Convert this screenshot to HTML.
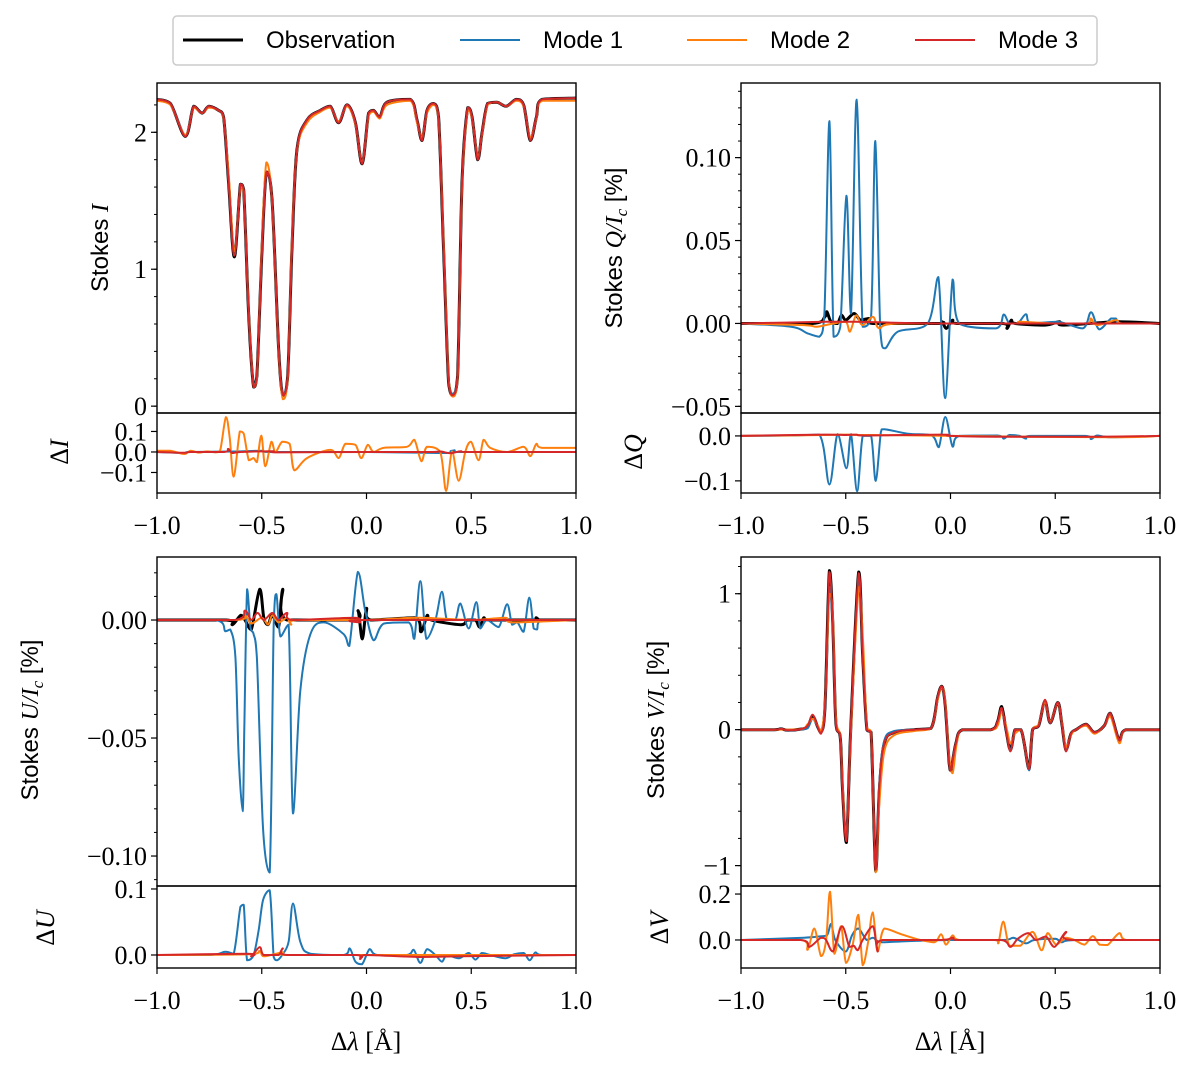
<!DOCTYPE html>
<html><head><meta charset="utf-8"><style>
body{margin:0;background:#fff;}
svg{display:block;}
text{font-family:"Liberation Serif",serif;fill:#000;}
.lg{font-family:"Liberation Sans",sans-serif;font-size:24px;}
</style></head><body>
<svg id="fig" width="1200" height="1075" viewBox="0 0 1200 1075" xmlns="http://www.w3.org/2000/svg">
<g>
<rect x="173" y="16" width="924" height="49" rx="4" fill="#fff" stroke="#ccc" stroke-width="1.5"/>
<line x1="183" y1="40" x2="243" y2="40" stroke="#000" stroke-width="3"/>
<text class="lg" x="266" y="48">Observation</text>
<line x1="460" y1="40" x2="520" y2="40" stroke="#1f77b4" stroke-width="2"/>
<text class="lg" x="543" y="48">Mode 1</text>
<line x1="687" y1="40" x2="747" y2="40" stroke="#ff7f0e" stroke-width="2"/>
<text class="lg" x="770" y="48">Mode 2</text>
<line x1="915" y1="40" x2="975" y2="40" stroke="#d62728" stroke-width="2"/>
<text class="lg" x="998" y="48">Mode 3</text>
</g>
</svg>
<script>
// ---- Stokes I ----
const iWl = [-1,-0.936,-0.865,-0.825,-0.785,-0.753,-0.706,-0.682,-0.658,-0.631,-0.602,-0.586,-0.562,-0.539,-0.523,-0.499,-0.478,-0.451,-0.419,-0.399,-0.376,-0.356,-0.332,-0.284,-0.22,-0.173,-0.133,-0.093,-0.053,-0.021,0.01,0.034,0.063,0.098,0.209,0.241,0.265,0.289,0.321,0.344,0.368,0.392,0.413,0.435,0.456,0.483,0.504,0.531,0.551,0.578,0.623,0.667,0.715,0.75,0.782,0.811,0.838,1];
const iObs = [2.24,2.21,1.97,2.19,2.14,2.19,2.16,2.11,1.63,1.09,1.62,1.58,0.65,0.14,0.22,1.14,1.71,1.51,0.41,0.08,0.22,1.14,1.87,2.09,2.16,2.19,2.07,2.2,2.07,1.77,2.14,2.16,2.11,2.22,2.24,2.09,1.94,2.16,2.21,2.11,1.14,0.17,0.08,0.22,1.63,2.18,2.11,1.8,1.99,2.21,2.22,2.19,2.24,2.2,1.94,2.11,2.24,2.25];
const iMode1 = [2.24,2.21,1.98,2.19,2.14,2.19,2.16,2.11,1.63,1.1,1.62,1.58,0.65,0.15,0.22,1.14,1.7,1.51,0.41,0.09,0.22,1.14,1.87,2.09,2.16,2.19,2.08,2.2,2.07,1.78,2.14,2.16,2.11,2.22,2.24,2.09,1.95,2.16,2.21,2.11,1.14,0.17,0.09,0.22,1.63,2.18,2.11,1.81,1.99,2.21,2.22,2.19,2.24,2.2,1.95,2.11,2.24,2.25];
const iMode2 = [2.23,2.2,1.98,2.18,2.14,2.18,2.16,2.1,1.7,1.13,1.6,1.57,0.68,0.14,0.2,1.2,1.78,1.5,0.4,0.05,0.2,1.2,1.86,2.07,2.15,2.18,2.08,2.19,2.06,1.78,2.12,2.15,2.1,2.2,2.23,2.07,1.96,2.14,2.2,2.1,1.2,0.2,0.07,0.2,1.6,2.16,2.1,1.82,1.98,2.2,2.22,2.19,2.23,2.19,1.96,2.1,2.23,2.23];
const iMode3 = [2.24,2.21,1.97,2.19,2.14,2.19,2.16,2.11,1.64,1.1,1.62,1.58,0.66,0.14,0.22,1.15,1.71,1.51,0.41,0.08,0.22,1.15,1.87,2.09,2.16,2.19,2.07,2.2,2.07,1.77,2.14,2.16,2.11,2.22,2.24,2.09,1.94,2.16,2.21,2.11,1.15,0.17,0.08,0.22,1.63,2.18,2.11,1.8,1.99,2.21,2.22,2.19,2.24,2.2,1.94,2.11,2.24,2.25];
const dIMode1 = [[-1,0],[-0.87,-0.005],[-0.84,0],[-0.6,0.003],[-0.5,0.006],[-0.45,0],[0,0],[0.38,-0.005],[0.42,0.008],[0.45,0],[1,0]];
const dIMode2 = [[-1,0.006],[-0.936,0.006],[-0.87,-0.01],[-0.84,0.006],[-0.8,-0.003],[-0.76,0.003],[-0.72,-0.002],[-0.698,0.01],[-0.671,0.17],[-0.653,0.07],[-0.634,-0.12],[-0.605,0.1],[-0.586,0.09],[-0.562,-0.04],[-0.539,-0.03],[-0.523,-0.05],[-0.502,0.08],[-0.483,-0.07],[-0.454,0.05],[-0.435,0],[-0.403,0.05],[-0.367,0.04],[-0.344,-0.09],[-0.284,-0.03],[-0.173,0.01],[-0.133,-0.03],[-0.101,0.04],[-0.053,0.035],[-0.025,-0.03],[0.006,0.035],[0.034,0],[0.082,0.02],[0.193,0.025],[0.228,0.06],[0.262,-0.045],[0.289,0.025],[0.352,0],[0.38,-0.19],[0.408,0.003],[0.44,-0.14],[0.472,0.003],[0.499,0.05],[0.535,-0.04],[0.559,0.06],[0.591,0.02],[0.671,0],[0.75,0.025],[0.782,-0.02],[0.811,0.04],[0.838,0.02],[1,0.02]];
const dIMode3 = [[-1,0],[-0.87,-0.004],[-0.84,0],[-0.68,0],[-0.66,0.015],[-0.64,-0.005],[-0.6,0],[-0.45,0.004],[-0.42,-0.002],[0,0],[0.3,0],[0.35,0.003],[0.4,-0.006],[0.45,0.004],[0.5,0],[1,0]];
// ---- Stokes Q ----
const qObs = [[-1,0],[-0.66,0],[-0.6,0.004],[-0.59,0.007],[-0.57,0.001],[-0.54,0],[-0.52,0.005],[-0.5,0.002],[-0.46,0.006],[-0.43,0.002],[-0.39,0.003],[-0.37,0],[-0.06,0],[-0.04,0.001],[-0.02,-0.003],[0.01,0.002],[0.03,0],[0.25,0],[0.27,-0.003],[0.29,0.002],[0.31,0],[0.45,-0.001],[0.52,0.001],[0.54,-0.001],[0.8,0.001],[1,0]];
const qMode1 = [[-1,0],[-0.761,-0.002],[-0.682,-0.006],[-0.626,-0.008],[-0.602,0.006],[-0.578,0.122],[-0.558,-0.008],[-0.526,-0.002],[-0.497,0.077],[-0.475,0.006],[-0.448,0.135],[-0.419,-0.002],[-0.379,0.004],[-0.359,0.11],[-0.335,-0.004],[-0.313,-0.015],[-0.252,-0.005],[-0.109,0],[-0.058,0.028],[-0.026,-0.045],[0.01,0.0265],[0.042,0],[0.217,-0.003],[0.254,0.0054],[0.281,0],[0.321,0],[0.36,0.0056],[0.384,0],[0.511,0.001],[0.631,-0.003],[0.671,0.0068],[0.71,-0.0036],[0.766,0.003],[0.79,0.003],[0.814,0],[1,0]];
const qMode2 = [[-1,0],[-0.7,-0.001],[-0.64,-0.002],[-0.56,0],[-0.5,0.001],[-0.48,-0.005],[-0.45,0.005],[-0.42,-0.001],[-0.37,0.004],[-0.34,-0.003],[-0.25,0],[0.3,0],[0.33,0.001],[0.5,0],[0.65,0],[0.67,0.003],[0.7,-0.001],[0.79,0.002],[0.82,0],[1,0]];
const qMode3 = [[-1,0],[-0.6,0.001],[-0.45,0.001],[0,0],[1,0]];
const dQMode1 = [[-1,0],[-0.761,0.001],[-0.626,0.003],[-0.578,-0.108],[-0.539,0.004],[-0.497,-0.072],[-0.475,0.004],[-0.446,-0.123],[-0.419,0],[-0.379,0],[-0.357,-0.1],[-0.332,0.009],[-0.316,0.015],[-0.204,0.005],[-0.09,0.001],[-0.056,-0.025],[-0.025,0.042],[0.01,-0.024],[0.042,0],[0.225,0.001],[0.254,-0.006],[0.281,0.002],[0.33,0],[0.36,-0.006],[0.384,0],[0.64,0],[0.671,-0.007],[0.7,0.001],[0.77,-0.003],[1,0]];
const dQMode2 = [[-1,0],[-0.6,0.002],[-0.5,0.003],[-0.45,0.002],[-0.37,0.002],[0,0],[0.78,-0.003],[1,0]];
const dQMode3 = [[-1,0],[-0.6,0.003],[-0.5,0.002],[-0.45,0.003],[-0.4,0.001],[-0.04,0.003],[0,0],[0.25,-0.002],[0.67,-0.002],[1,0]];
// ---- Stokes U ----
const uObs = [[-1,0],[-0.67,0],[-0.64,-0.002],[-0.6,0.002],[-0.58,0],[-0.55,-0.004],[-0.51,0.013],[-0.49,0.001],[-0.47,-0.002],[-0.45,0.002],[-0.42,-0.003],[-0.4,0.013],[-0.38,0],[-0.06,0],[-0.04,0.004],[-0.02,-0.008],[0,0.005],[0.02,0],[0.23,0.001],[0.26,-0.005],[0.29,0.002],[0.31,0],[0.45,-0.002],[0.48,0],[0.52,0],[0.54,-0.003],[0.56,0.001],[0.59,0],[0.8,0],[0.81,0.001],[0.83,0],[1,0]];
const uMode1 = [[-1,0],[-0.72,0],[-0.674,-0.0048],[-0.65,-0.004],[-0.626,-0.0157],[-0.61,-0.058],[-0.591,-0.081],[-0.583,-0.044],[-0.57,0.013],[-0.554,-0.003],[-0.539,-0.006],[-0.523,-0.016],[-0.494,-0.088],[-0.462,-0.107],[-0.443,-0.002],[-0.43,0.011],[-0.411,-0.007],[-0.372,-0.002],[-0.351,-0.082],[-0.316,-0.03],[-0.268,-0.006],[-0.204,-0.001],[-0.109,-0.006],[-0.082,-0.011],[-0.041,0.0204],[-0.006,0.004],[0.034,-0.0086],[0.082,-0.0015],[0.201,-0.001],[0.228,-0.008],[0.257,0.0165],[0.286,-0.008],[0.329,0],[0.36,0.012],[0.384,0],[0.424,0],[0.448,0.007],[0.488,-0.0036],[0.524,0.0076],[0.543,-0.0036],[0.575,0],[0.631,-0.003],[0.671,0.0067],[0.695,-0.002],[0.72,-0.001],[0.75,-0.005],[0.777,0.0095],[0.798,-0.0036],[0.814,-0.004],[0.838,0],[1,0]];
const uMode2 = [[-1,0],[-0.62,0],[-0.58,0.002],[-0.55,-0.0015],[-0.5,0.001],[-0.47,-0.002],[-0.45,0.002],[-0.42,-0.001],[-0.38,0.001],[-0.36,-0.002],[-0.33,0],[0,0],[0.25,0.001],[0.5,0],[0.66,0.001],[0.7,-0.001],[1,0]];
const uMode3 = [[-1,0],[-0.63,0],[-0.58,0.004],[-0.55,0],[-0.52,0.003],[-0.49,0],[-0.45,0.003],[-0.42,0],[-0.38,0.003],[-0.35,0],[-0.06,0.001],[-0.03,-0.001],[0,0],[1,0]];
const dUMode1 = [[-1,0],[-0.745,0],[-0.674,0.005],[-0.634,0.002],[-0.602,0.073],[-0.586,0.076],[-0.57,-0.008],[-0.539,0],[-0.515,0.037],[-0.494,0.083],[-0.462,0.098],[-0.443,-0.003],[-0.427,-0.008],[-0.403,0],[-0.372,0.02],[-0.351,0.078],[-0.316,0.02],[-0.268,0.002],[-0.109,0],[-0.08,0.01],[-0.053,-0.01],[-0.021,-0.014],[0.015,0.009],[0.05,0],[0.193,0],[0.225,0.008],[0.257,-0.012],[0.289,0.009],[0.329,0],[0.36,-0.01],[0.384,0],[0.44,-0.005],[0.488,0.003],[0.52,-0.007],[0.551,0.003],[0.591,0],[0.663,-0.005],[0.703,0.001],[0.75,0.003],[0.779,-0.008],[0.806,0.004],[0.838,0],[1,0]];
const dUMode2 = [[-1,0],[-0.57,0.001],[-0.51,0.006],[-0.49,-0.002],[-0.4,0.004],[-0.38,0],[0,0],[1,0]];
const dUMode3 = [[-1,0],[-0.57,0.002],[-0.55,-0.002],[-0.51,0.012],[-0.49,0],[-0.42,0],[-0.4,0.01],[-0.38,0],[-0.05,0],[-0.03,-0.006],[0,0],[0.26,-0.003],[0.45,-0.002],[1,0]];
// ---- Stokes V ----
const vObs = [[-1,0],[-0.841,0],[-0.809,0.006],[-0.777,-0.004],[-0.714,0.004],[-0.682,0.02],[-0.658,0.1],[-0.634,0.02],[-0.618,-0.02],[-0.599,0.17],[-0.578,1.17],[-0.562,0.78],[-0.547,0.05],[-0.526,-0.06],[-0.515,-0.45],[-0.497,-0.83],[-0.475,0.05],[-0.438,1.16],[-0.419,0.54],[-0.399,0],[-0.379,-0.02],[-0.357,-1.04],[-0.34,-0.45],[-0.316,-0.1],[-0.268,-0.02],[-0.173,0],[-0.093,0.01],[-0.061,0.24],[-0.042,0.32],[-0.026,0.19],[-0.006,-0.25],[0.002,-0.3],[0.026,-0.1],[0.058,0],[0.193,0],[0.225,0.06],[0.244,0.17],[0.265,0],[0.286,-0.15],[0.308,0],[0.336,0],[0.352,-0.1],[0.375,-0.29],[0.392,0],[0.421,0.03],[0.451,0.21],[0.476,0.05],[0.512,0.2],[0.531,0.05],[0.551,-0.15],[0.575,-0.03],[0.599,0],[0.647,0.04],[0.687,-0.02],[0.734,0.03],[0.763,0.12],[0.806,-0.08],[0.838,0],[1,0]];
const vMode1 = [[-1,0],[-0.841,0],[-0.809,0.008],[-0.777,-0.006],[-0.714,0.002],[-0.682,0.01],[-0.658,0.08],[-0.634,0.02],[-0.618,-0.01],[-0.599,0.15],[-0.578,1.05],[-0.562,0.75],[-0.547,0.05],[-0.526,-0.06],[-0.515,-0.45],[-0.497,-0.78],[-0.475,0.05],[-0.438,1.1],[-0.419,0.54],[-0.399,0],[-0.379,-0.02],[-0.357,-1.02],[-0.34,-0.4],[-0.316,-0.08],[-0.268,-0.01],[-0.173,0],[-0.093,0.01],[-0.061,0.24],[-0.042,0.31],[-0.026,0.19],[-0.006,-0.25],[0.002,-0.29],[0.026,-0.1],[0.058,0],[0.193,0],[0.225,0.05],[0.244,0.15],[0.265,0],[0.286,-0.15],[0.308,0],[0.336,0],[0.352,-0.1],[0.375,-0.3],[0.392,0],[0.421,0.03],[0.451,0.21],[0.476,0.05],[0.512,0.2],[0.531,0.05],[0.551,-0.15],[0.575,-0.03],[0.599,0],[0.647,0.04],[0.687,-0.02],[0.734,0.03],[0.763,0.12],[0.806,-0.08],[0.838,0],[1,0]];
const vMode2 = [[-1,0],[-0.841,0],[-0.714,0.004],[-0.682,0.04],[-0.658,0.08],[-0.634,0.03],[-0.618,-0.01],[-0.599,0.2],[-0.578,1.0],[-0.562,0.85],[-0.547,0.1],[-0.526,-0.05],[-0.515,-0.4],[-0.497,-0.8],[-0.475,0.0],[-0.438,1.05],[-0.419,0.7],[-0.399,0.02],[-0.379,-0.02],[-0.357,-1.05],[-0.34,-0.55],[-0.316,-0.16],[-0.268,-0.04],[-0.173,-0.01],[-0.093,0.01],[-0.061,0.22],[-0.042,0.31],[-0.026,0.22],[-0.006,-0.2],[0.01,-0.32],[0.03,-0.1],[0.058,0],[0.193,0],[0.225,0.03],[0.244,0.13],[0.265,0.03],[0.286,-0.1],[0.308,-0.03],[0.336,0],[0.352,-0.1],[0.375,-0.28],[0.392,0],[0.421,0.04],[0.451,0.2],[0.476,0.06],[0.512,0.19],[0.531,0.06],[0.551,-0.13],[0.575,-0.04],[0.599,0],[0.647,0.03],[0.687,-0.03],[0.734,0.03],[0.763,0.1],[0.806,-0.1],[0.838,0],[1,0]];
const vMode3 = [[-1,0],[-0.841,0],[-0.809,0.006],[-0.777,-0.004],[-0.714,0.004],[-0.682,0.03],[-0.658,0.11],[-0.634,0.02],[-0.618,-0.03],[-0.599,0.17],[-0.578,1.16],[-0.562,0.78],[-0.547,0.05],[-0.526,-0.06],[-0.515,-0.45],[-0.497,-0.82],[-0.475,0.05],[-0.438,1.15],[-0.419,0.54],[-0.399,0],[-0.379,-0.02],[-0.357,-1.03],[-0.34,-0.42],[-0.316,-0.1],[-0.268,-0.02],[-0.173,0],[-0.093,0.01],[-0.061,0.24],[-0.042,0.32],[-0.026,0.19],[-0.006,-0.25],[0.002,-0.3],[0.026,-0.1],[0.058,0],[0.193,0],[0.225,0.06],[0.244,0.16],[0.265,0],[0.286,-0.16],[0.308,0],[0.336,0],[0.352,-0.1],[0.375,-0.29],[0.392,0],[0.421,0.03],[0.451,0.22],[0.476,0.05],[0.512,0.2],[0.531,0.05],[0.551,-0.16],[0.575,-0.03],[0.599,0],[0.647,0.04],[0.687,-0.02],[0.734,0.03],[0.763,0.12],[0.806,-0.08],[0.838,0],[1,0]];
const dVMode1 = [[-1,0],[-0.7,0.01],[-0.63,0.015],[-0.59,0.02],[-0.57,0.07],[-0.55,0],[-0.5,-0.05],[-0.47,0.02],[-0.44,0.05],[-0.4,0],[-0.37,0.01],[-0.33,-0.01],[-0.2,-0.005],[0,0],[0.25,0],[0.3,0.01],[0.36,-0.015],[0.4,0],[0.5,0.005],[0.53,-0.01],[0.6,0],[1,0]];
const dVMode2 = [[-1,0],[-0.714,0],[-0.682,-0.043],[-0.65,0.05],[-0.618,-0.07],[-0.594,0],[-0.575,0.21],[-0.554,-0.06],[-0.523,0.06],[-0.499,-0.1],[-0.467,-0.02],[-0.44,0.11],[-0.419,-0.11],[-0.395,-0.02],[-0.371,0.12],[-0.348,-0.05],[-0.316,0.05],[-0.236,0.025],[-0.157,0.003],[-0.077,-0.01],[-0.045,0.025],[-0.021,-0.02],[0.01,0.02],[0.042,0],[0.209,0],[0.228,-0.015],[0.252,0.08],[0.281,-0.025],[0.334,-0.025],[0.392,0.035],[0.435,-0.045],[0.464,0.03],[0.504,-0.02],[0.551,0.01],[0.591,0],[0.639,-0.02],[0.679,0.017],[0.711,-0.02],[0.75,-0.022],[0.806,0.03],[0.838,0],[1,0]];
const dVMode3 = [[-1,0],[-0.714,0],[-0.674,-0.03],[-0.618,0.01],[-0.594,0],[-0.562,-0.05],[-0.518,0.06],[-0.483,-0.03],[-0.462,-0.025],[-0.443,-0.045],[-0.419,0],[-0.371,0.06],[-0.348,-0.05],[-0.324,0],[-0.045,0],[0.01,0.01],[0.034,0],[0.241,0],[0.286,-0.03],[0.321,0.005],[0.371,0.03],[0.408,0],[0.456,0.015],[0.496,-0.03],[0.551,0.035],[0.575,0],[1,0]];

const C = {obs:'#000000', m1:'#1f77b4', m2:'#ff7f0e', m3:'#d62728'};
const NS = 'http://www.w3.org/2000/svg';
const svg = document.getElementById('fig');
function mk(tag, attrs, parent){
  const e = document.createElementNS(NS, tag);
  for (const k in attrs) e.setAttribute(k, attrs[k]);
  (parent||svg).appendChild(e);
  return e;
}
function zip(xs, ys){ return xs.map((x,i)=>[x, ys[i]]); }
function fmt(v, d){ const s = Math.abs(v).toFixed(d); return (v < -1e-9 ? '\u2212' : '') + s; }
// smooth path through pixel points (no overshoot)
function smoothPath(P){
  let d = 'M' + P[0][0].toFixed(1) + ' ' + P[0][1].toFixed(1);
  for (let i = 0; i < P.length - 1; i++){
    const p0 = P[Math.max(0, i-1)], p1 = P[i], p2 = P[i+1], p3 = P[Math.min(P.length-1, i+2)];
    const lo = Math.min(p1[1], p2[1]), hi = Math.max(p1[1], p2[1]);
    const cl = v => Math.max(lo, Math.min(hi, v));
    const c1x = p1[0] + (p2[0]-p0[0])/6, c1y = cl(p1[1] + (p2[1]-p0[1])/6);
    const c2x = p2[0] - (p3[0]-p1[0])/6, c2y = cl(p2[1] - (p3[1]-p1[1])/6);
    d += ' C' + c1x.toFixed(1) + ' ' + c1y.toFixed(1) + ' ' + c2x.toFixed(1) + ' ' + c2y.toFixed(1) + ' ' + p2[0].toFixed(1) + ' ' + p2[1].toFixed(1);
  }
  return d;
}

let clipId = 0;
function panel(name, x0, x1, top, bottom, ymin, ymax, ticks, dec, minor, series, xlabels){
  const g = mk('g', {});
  
  
  const sx = x => x0 + (x + 1) / 2 * (x1 - x0);
  const sy = y => bottom - (y - ymin) / (ymax - ymin) * (bottom - top);
  const id = 'clip' + (clipId++);
  const cp = mk('clipPath', {id: id}, g);
  mk('rect', {x: x0, y: top, width: x1 - x0, height: bottom - top}, cp);
  const lines = mk('g', {'clip-path': 'url(#' + id + ')'}, g);
  series.forEach(s => {
    const d = smoothPath(s.data.map(p => [sx(p[0]), sy(p[1])]));
    const p = mk('path', {d: d, fill: 'none', stroke: C[s.c], 'stroke-width': s.c === 'obs' ? 3 : 2, 'stroke-linejoin': 'round'}, lines);
    
    
  });
  if (minor) {
    for (let v = Math.ceil(ymin / minor) * minor; v <= ymax; v += minor) {
      mk('line', {x1: x0 - 3, x2: x0, y1: sy(v), y2: sy(v), stroke: '#000', 'stroke-width': 1}, g);
    }
  }
  ticks.forEach(v => {
    mk('line', {x1: x0 - 6, x2: x0, y1: sy(v), y2: sy(v), stroke: '#000', 'stroke-width': 1.2}, g);
    const t = mk('text', {x: x0 - 10, y: sy(v) + 9, 'text-anchor': 'end', 'font-size': 26}, g);
    t.textContent = fmt(v, dec);
    
    
  });
  if (xlabels) {
    xTicks.forEach(v => {
      mk('line', {x1: sx(v), x2: sx(v), y1: bottom, y2: bottom + 6, stroke: '#000', 'stroke-width': 1.2}, g);
      const t = mk('text', {x: sx(v), y: bottom + 41, 'text-anchor': 'middle', 'font-size': 26}, g);
      t.textContent = fmt(v, 1);
      
      
    });
  }
  mk('rect', {x: x0, y: top, width: x1 - x0, height: bottom - top, fill: 'none', stroke: '#000', 'stroke-width': 1.4}, g);
}
const xTicks = [-1, -0.5, 0, 0.5, 1];
function S(o,m1,m2,m3){ const a=[]; if(o) a.push({c:'obs',n:'observation',data:o}); a.push({c:'m1',n:'mode1',data:m1},{c:'m2',n:'mode2',data:m2},{c:'m3',n:'mode3',data:m3}); return a; }

panel('stokes-i', 157, 576, 83, 413, -0.05, 2.36, [0,1,2], 0, 0.2, S(zip(iWl,iObs),zip(iWl,iMode1),zip(iWl,iMode2),zip(iWl,iMode3)), false);
panel('delta-i', 157, 576, 413, 493, -0.2, 0.19, [0.1,0,-0.1], 1, 0, S(null,dIMode1,dIMode2,dIMode3), true);
panel('stokes-q', 741, 1160, 83, 413, -0.054, 0.145, [0.1,0.05,0,-0.05], 2, 0.01, S(qObs,qMode1,qMode2,qMode3), false);
panel('delta-q', 741, 1160, 413, 493, -0.127, 0.051, [0,-0.1], 1, 0, S(null,dQMode1,dQMode2,dQMode3), true);
panel('stokes-u', 157, 576, 557, 886, -0.1127, 0.0267, [0,-0.05,-0.1], 2, 0.01, S(uObs,uMode1,uMode2,uMode3), false);
panel('delta-u', 157, 576, 886, 968, -0.0197, 0.1045, [0.1,0], 1, 0, S(null,dUMode1,dUMode2,dUMode3), true);
panel('stokes-v', 741, 1160, 557, 886, -1.15, 1.27, [1,0,-1], 0, 0.2, S(vObs,vMode1,vMode2,vMode3), false);
panel('delta-v', 741, 1160, 886, 968, -0.122, 0.235, [0.2,0], 1, 0, S(null,dVMode1,dVMode2,dVMode3), true);

function label(txt, x, y, rot, name, sans){
  const t = mk('text', {x: x, y: y, 'text-anchor': 'middle', 'font-size': 26, transform: rot ? 'rotate(-90 ' + x + ' ' + y + ')' : ''});
  if (sans) t.setAttribute('style', 'font-family:"Liberation Sans",sans-serif;font-size:24px');
  t.innerHTML = txt;
  
  
}
label('Stokes <tspan font-family="Liberation Serif" font-style="italic">I</tspan>', 108, 248, true, 'stokes-i-y-label', true);
label('Δ<tspan font-style="italic">I</tspan>', 68, 452, true, 'delta-i-y-label');
label('Stokes <tspan font-family="Liberation Serif" font-style="italic">Q/I</tspan><tspan font-family="Liberation Serif" font-style="italic" font-size="17" dy="5">c</tspan><tspan dy="-5"> [%]</tspan>', 622, 248, true, 'stokes-q-y-label', true);
label('Δ<tspan font-style="italic">Q</tspan>', 642, 452, true, 'delta-q-y-label');
label('Stokes <tspan font-family="Liberation Serif" font-style="italic">U/I</tspan><tspan font-family="Liberation Serif" font-style="italic" font-size="17" dy="5">c</tspan><tspan dy="-5"> [%]</tspan>', 38, 720, true, 'stokes-u-y-label', true);
label('Δ<tspan font-style="italic">U</tspan>', 54, 928, true, 'delta-u-y-label');
label('Stokes <tspan font-family="Liberation Serif" font-style="italic">V/I</tspan><tspan font-family="Liberation Serif" font-style="italic" font-size="17" dy="5">c</tspan><tspan dy="-5"> [%]</tspan>', 664, 720, true, 'stokes-v-y-label', true);
label('Δ<tspan font-style="italic">V</tspan>', 668, 928, true, 'delta-v-y-label');
label('Δ<tspan font-style="italic">λ</tspan> [Å]', 366, 1050, false, 'x-axis-title-left');
label('Δ<tspan font-style="italic">λ</tspan> [Å]', 950, 1050, false, 'x-axis-title-right');
</script>
</body></html>
